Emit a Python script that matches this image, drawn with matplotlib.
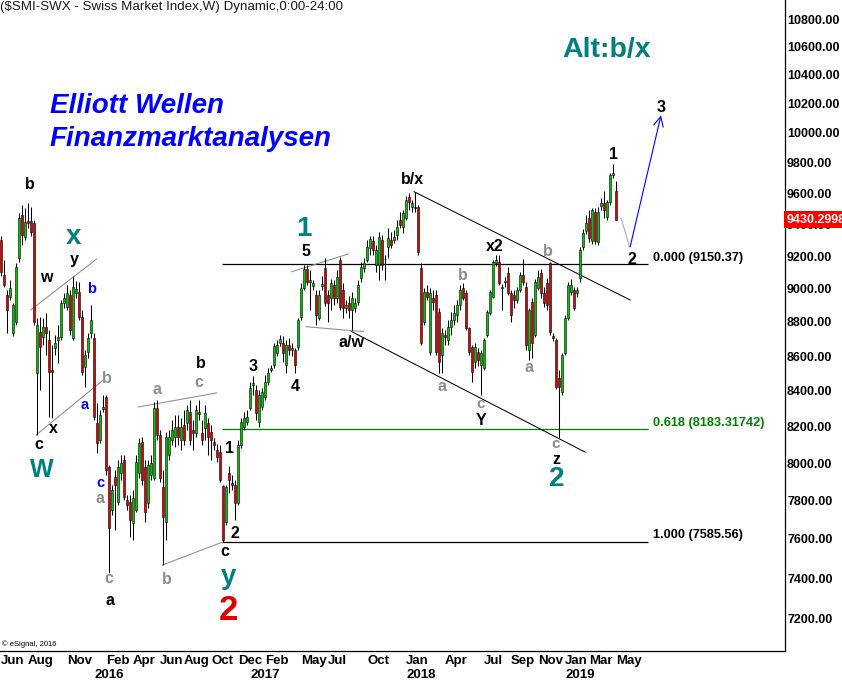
import matplotlib
matplotlib.use("Agg")
import matplotlib.pyplot as plt
import matplotlib.transforms as mtransforms
from matplotlib.ticker import NullLocator
import numpy as np
import pandas as pd


# weekly bars, first bar = week of 2015-06-01
START = "2015-06-01"

OPENS = [
    9302, 9084, 8962, 8950, 8735, 8800, 9190, 9460, 9320, 9422,
    9422, 9409, 8502, 8741, 8711, 8770, 8694, 8519, 8646, 8694,
    8711, 8914, 8890, 8962, 8705, 8974, 8980, 8830, 8536, 8623,
    8735, 8705, 8219, 8125, 8298, 8365, 7978, 7750, 7924, 7792,
    7946, 8016, 7802, 7792, 7681, 7750, 7946, 8114, 7978, 7786,
    7935, 7919, 8303, 8153, 7871, 7687, 8043, 8125, 8142, 8197,
    8125, 8208, 8219, 8281, 8180, 8164, 8281, 8164, 8191, 8219,
    8169, 8114, 8070, 8059, 7876, 7687, 7946, 7892, 7882, 7786,
    8098, 8197, 8225, 8303, 8433, 8405, 8225, 8309, 8365, 8450,
    8519, 8548, 8618, 8676, 8676, 8548, 8664, 8635, 8635, 8652,
    8830, 9005, 9121, 9041, 9017, 8962, 8824, 9017, 9127, 8962,
    8944, 9023, 8944, 9177, 8992, 8884, 8914, 8872, 8884, 8920,
    9066, 9127, 9177, 9251, 9295, 9146, 9146, 9302, 9183, 9258,
    9302, 9302, 9333, 9428, 9384, 9441, 9576, 9511, 9511, 9511,
    9127, 8800, 8980, 8623, 8944, 8962, 8860, 8606, 8723, 8694,
    8770, 8812, 8842, 8902, 9005, 8974, 8764, 8652, 8566, 8623,
    8548, 8531, 8723, 8854, 8950, 9159, 9165, 9005, 9041, 9096,
    8974, 8962, 8932, 8992, 9084, 9011, 8635, 8920, 8723, 9005,
    9096, 8974, 9035, 9159, 8717, 8694, 8473, 8393, 8618, 8824,
    8980, 8992, 8974, 9066, 9258, 9357, 9440, 9296, 9479, 9289,
    9518, 9537, 9447, 9543, 9719, 9615,
]
HIGHS = [
    9327, 9177, 8992, 9053, 8914, 9159, 9473, 9524, 9505, 9537,
    9511, 9428, 8824, 8830, 8824, 8854, 8753, 8664, 8723, 8782,
    8932, 8974, 9023, 8992, 9078, 9047, 9041, 8872, 8635, 8735,
    8902, 8735, 8331, 8292, 8376, 8376, 7989, 7882, 7962, 8016,
    8043, 8043, 7829, 7829, 7855, 8043, 8136, 8142, 8016, 8016,
    8043, 8337, 8348, 8180, 7962, 8169, 8180, 8236, 8264, 8264,
    8247, 8292, 8320, 8348, 8236, 8320, 8348, 8236, 8320, 8247,
    8208, 8136, 8103, 8098, 7882, 7882, 7984, 7935, 7908, 8125,
    8247, 8281, 8292, 8450, 8484, 8433, 8405, 8416, 8490, 8531,
    8548, 8676, 8694, 8723, 8717, 8694, 8705, 8676, 8646, 8824,
    9035, 9146, 9146, 9115, 9053, 8992, 8992, 9078, 9190, 8992,
    9060, 9053, 9115, 9196, 9035, 8932, 8956, 8980, 8944, 9053,
    9165, 9190, 9302, 9327, 9327, 9270, 9352, 9333, 9208, 9377,
    9352, 9365, 9428, 9479, 9492, 9582, 9602, 9556, 9608, 9524,
    9159, 9005, 9023, 9005, 8992, 8992, 8884, 8764, 8753, 8812,
    8860, 8902, 8932, 9023, 9035, 8992, 8770, 8664, 8676, 8646,
    8635, 8705, 8872, 8992, 9177, 9208, 9208, 9029, 9072, 9134,
    8992, 8992, 9011, 9102, 9183, 9041, 8884, 8944, 9060, 9115,
    9121, 9011, 9066, 9165, 8735, 8705, 8519, 8618, 8842, 9041,
    9060, 9011, 9011, 9258, 9371, 9460, 9492, 9505, 9505, 9511,
    9569, 9614, 9556, 9730, 9790, 9680,
]
LOWS = [
    9078, 9011, 8735, 8932, 8717, 8782, 9165, 9270, 9302, 9377,
    9327, 8782, 8153, 8405, 8664, 8606, 8253, 8247, 8606, 8560,
    8694, 8884, 8872, 8723, 8694, 8944, 8812, 8490, 8422, 8589,
    8705, 8236, 8054, 8109, 8281, 7935, 7426, 7723, 7645, 7776,
    7908, 7802, 7750, 7610, 7594, 7739, 7919, 7882, 7687, 7760,
    7908, 7908, 8125, 7898, 7467, 7594, 8016, 8098, 8087, 8098,
    8070, 8098, 8180, 8098, 8070, 8142, 8236, 8098, 8125, 8043,
    8016, 8070, 8005, 7898, 7585, 7671, 7839, 7855, 7697, 7776,
    8081, 8180, 8208, 8292, 8376, 8236, 8197, 8292, 8348, 8433,
    8508, 8531, 8600, 8658, 8566, 8502, 8606, 8600, 8502, 8635,
    8812, 8992, 9023, 8872, 8992, 8782, 8812, 8992, 8896, 8800,
    8872, 8902, 8914, 8872, 8824, 8854, 8824, 8753, 8860, 8902,
    9041, 9102, 9165, 9208, 9208, 9102, 9053, 9115, 9053, 9190,
    9251, 9283, 9302, 9377, 9346, 9428, 9492, 9479, 9479, 9208,
    8664, 8782, 8932, 8606, 8872, 8606, 8502, 8502, 8664, 8664,
    8723, 8782, 8800, 8872, 8932, 8753, 8606, 8450, 8531, 8540,
    8376, 8519, 8711, 8842, 8944, 9140, 9023, 8872, 9011, 8962,
    8800, 8884, 8914, 8980, 9023, 8635, 8577, 8589, 8711, 8992,
    8944, 8890, 8872, 8723, 8690, 8410, 8137, 8376, 8606, 8812,
    8962, 8872, 8950, 9041, 9239, 9340, 9290, 9277, 9277, 9270,
    9492, 9441, 9428, 9524, 9700, 9425,
]
CLOSES = [
    9102, 9023, 8872, 9005, 8902, 9134, 9441, 9333, 9415, 9409,
    9352, 8800, 8782, 8652, 8770, 8735, 8508, 8508, 8676, 8711,
    8914, 8944, 8974, 8753, 9011, 8998, 8830, 8508, 8606, 8705,
    8812, 8253, 8109, 8264, 8309, 7962, 7655, 7855, 7882, 7978,
    8000, 7818, 7776, 7697, 7813, 8005, 8109, 7908, 7739, 7989,
    8000, 8303, 8153, 7919, 7713, 8142, 8142, 8180, 8197, 8142,
    8197, 8125, 8292, 8125, 8164, 8292, 8270, 8125, 8275, 8142,
    8125, 8098, 8032, 7908, 7594, 7871, 7908, 7882, 7786, 8098,
    8225, 8247, 8253, 8416, 8444, 8275, 8376, 8393, 8450, 8502,
    8531, 8658, 8664, 8700, 8618, 8664, 8635, 8646, 8548, 8812,
    9005, 9121, 9041, 9053, 9035, 8842, 8962, 9029, 8914, 8914,
    9035, 8944, 9072, 8890, 8884, 8902, 8872, 8944, 8914, 9023,
    9134, 9159, 9258, 9308, 9239, 9239, 9321, 9146, 9180, 9314,
    9270, 9321, 9384, 9396, 9473, 9556, 9543, 9537, 9505, 9227,
    8676, 8980, 8950, 8974, 8920, 8623, 8566, 8735, 8711, 8770,
    8812, 8854, 8902, 8992, 8944, 8764, 8623, 8508, 8652, 8577,
    8618, 8694, 8860, 8980, 9165, 9177, 9035, 9011, 9047, 8974,
    8842, 8932, 8992, 9084, 9041, 8664, 8872, 8676, 9041, 9072,
    8974, 8914, 8902, 8741, 8705, 8422, 8422, 8606, 8824, 9023,
    9023, 8884, 8992, 9239, 9346, 9409, 9315, 9492, 9296, 9480,
    9537, 9492, 9543, 9719, 9732, 9430,
]
LAST_PRICE = 9430.2998

FIB_RATIOS = [0.000, 0.618, 1.000]
FIB_LEVELS = [9150.37, 8183.31742, 7585.56]

PRICE_TICKS = list(range(7200, 10801, 200))
MONTH_LABELS = [
    (2015, 6), (2015, 8), (2015, 11), (2016, 2), (2016, 4), (2016, 6),
    (2016, 8), (2016, 10), (2016, 12), (2017, 2), (2017, 5), (2017, 7),
    (2017, 10), (2018, 1), (2018, 4), (2018, 7), (2018, 9), (2018, 11),
    (2019, 1), (2019, 3), (2019, 5),
]
YEAR_LABELS = [2016, 2017, 2018, 2019]

COLORS = {
    "up": "#00c800",
    "down": "#e00000",
    "ink": "#000000",
    "grey": "#8c8c8c",
    "teal": "#008080",
    "blue": "#0000ff",
    "fib_green": "#008000",
}

# wave counts: (text, bar index, price level, colour, size)
WAVE_LABELS = [
    ("b", 9.7, 9654, "ink", 11.5), ("w", 15.2, 9066, "ink", 11.5),
    ("y", 24.3, 9177, "ink", 11.5), ("x", 24.3, 9321, "teal", 20),
    ("b", 30.2, 8998, "blue", 10.5), ("b", 35.2, 8473, "grey", 11.5),
    ("a", 28.0, 8320, "blue", 10.5), ("x", 17.3, 8191, "ink", 11.5),
    ("c", 12.7, 8098, "ink", 11.5), ("W", 13.7, 7962, "teal", 18),
    ("c", 33.0, 7892, "blue", 10.5), ("a", 33.0, 7808, "grey", 11.5),
    ("c", 36.0, 7401, "grey", 11.5), ("a", 36.3, 7291, "ink", 11.5),
    ("a", 52.0, 8410, "grey", 11.5), ("c", 66.0, 8450, "grey", 11.5),
    ("b", 66.6, 8554, "ink", 11.5), ("b", 55.3, 7392, "grey", 11.5),
    ("c", 74.5, 7533, "ink", 11.5), ("y", 76.0, 7406, "teal", 20),
    ("2", 75.7, 7243, "down", 25), ("1", 76.0, 8081, "ink", 11.5),
    ("2", 78.0, 7630, "ink", 11.5), ("3", 84.0, 8542, "ink", 11.5),
    ("4", 98.2, 8422, "ink", 11.5), ("5", 101.8, 9227, "ink", 11.5),
    ("1", 101.0, 9371, "teal", 20), ("a/w", 116.9, 8676, "ink", 11.5),
    ("b/x", 137.3, 9687, "ink", 11.5), ("a", 146.9, 8422, "grey", 11.5),
    ("b", 154.0, 9078, "grey", 11.5), ("x2", 164.7, 9258, "ink", 11.5),
    ("c", 160.0, 8325, "grey", 11), ("Y", 160.0, 8232, "ink", 11.5),
    ("a", 176.0, 8531, "grey", 11.5), ("b", 182.3, 9227, "grey", 11.5),
    ("c", 185.0, 8104, "grey", 11), ("z", 185.2, 8017, "ink", 11.5),
    ("2", 185.3, 7912, "teal", 20), ("1", 204.0, 9852, "ink", 11.5),
    ("2", 210.2, 9177, "ink", 11.5), ("3", 220.0, 10170, "ink", 11.5),
]

# channel / wedge lines: ((i0, p0), (i1, p1), colour)
TREND_LINES = [
    ((9.9, 8872), (31.9, 9183), "grey"),
    ((11.7, 8153), (34.1, 8462), "grey"),
    ((45.8, 8309), (71.9, 8388), "grey"),
    ((53.8, 7467), (74.1, 7585), "grey"),
    ((96.9, 9104), (115.8, 9214), "grey"),
    ((101.7, 8772), (120.8, 8743), "grey"),
    ((137.7, 9610), (209.7, 8932), "ink"),
    ((116.9, 8743), (194.7, 8059), "ink"),
]


def draw_candles(ax, x):
    o = np.array(OPENS, float)
    h = np.array(HIGHS, float)
    l = np.array(LOWS, float)
    c = np.array(CLOSES, float)
    ax.vlines(x, l, h, color="black", linewidth=0.75, zorder=2)
    lo = np.minimum(o, c)
    hi = np.maximum(o, c)
    fill = np.where(c >= o, COLORS["up"], COLORS["down"])
    ax.bar(x, hi - lo, bottom=lo, width=0.85, color=fill,
           edgecolor="black", linewidth=0.4, zorder=3)


def main():
    plt.rcParams["font.family"] = ["Liberation Sans", "DejaVu Sans"]

    dates = pd.date_range(START, periods=len(CLOSES), freq="W-MON")
    x = np.arange(len(dates))

    fig = plt.figure(figsize=(8.42, 6.83), dpi=100)
    ax = fig.add_axes([0, 32 / 683, 785 / 842, 651 / 683])
    fig.patch.set_facecolor("white")

    ax.set_yscale("log")
    ax.set_ylim(7045.4, 10939.6)
    ax.set_xlim(-1 / 3, 784 / 3)

    draw_candles(ax, x)

    # fibonacci retracement levels, drawn from wave-2 low
    fib_start = float(np.argmin(LOWS[60:90]) + 60) - 0.3
    fib_end = 215.7
    for ratio, level in zip(FIB_RATIOS, FIB_LEVELS):
        col = COLORS["fib_green"] if ratio == 0.618 else "black"
        ax.hlines(level, fib_start, fib_end, color=col, linewidth=0.9, zorder=1)
        ax.text(fib_end + 1.7, level * 1.0002, f"{ratio:.3f} ({level})",
                fontsize=9.2, fontweight="bold", color=col,
                ha="left", va="bottom")

    for (i0, p0), (i1, p1), col in TREND_LINES:
        ax.plot([i0, i1], [p0, p1], color=COLORS[col], linewidth=0.75, zorder=1)

    # projected path 2 -> 3
    ax.plot([206.7, 209.5], [9441, 9258], color="#b4b4b4", linewidth=0.9, zorder=1)
    ax.annotate("", xy=(220.0, 10119), xytext=(209.7, 9258),
                arrowprops=dict(arrowstyle="->,head_length=0.7,head_width=0.35",
                                color=COLORS["blue"], linewidth=0.8,
                                shrinkA=0, shrinkB=0))

    for text, i, p, col, size in WAVE_LABELS:
        ax.text(i, p, text, fontsize=size, fontweight="bold",
                color=COLORS[col], ha="center", va="center", zorder=5)

    # axes frame
    for side in ("top", "left"):
        ax.spines[side].set_visible(False)
    for side in ("right", "bottom"):
        ax.spines[side].set_color("black")
        ax.spines[side].set_linewidth(0.9)

    ax.yaxis.tick_right()
    ax.set_yticks(PRICE_TICKS, labels=[f"{v:.2f}" for v in PRICE_TICKS],
                  fontsize=9, fontweight="bold")
    ax.yaxis.set_minor_locator(NullLocator())
    ax.tick_params(axis="y", length=0, pad=1.5)
    ax.set_xticks([])

    trans = mtransforms.blended_transform_factory(ax.transData, ax.transAxes)
    for yr, mo in MONTH_LABELS:
        idx = int(np.argmax((dates.year == yr) & (dates.month == mo)))
        ax.text(idx, -0.0155, dates[idx].strftime("%b"), transform=trans,
                fontsize=9.5, fontweight="bold", ha="left", va="center",
                clip_on=False)
    for yr in YEAR_LABELS:
        idx = int(np.argmax((dates.year == yr) & (dates.month == 1)))
        ax.text(idx, -0.037, str(yr), transform=trans,
                fontsize=9.5, fontweight="bold", ha="left", va="center",
                clip_on=False)

    ytrans = mtransforms.blended_transform_factory(ax.transAxes, ax.transData)
    ax.text(1.002, LAST_PRICE, f"{LAST_PRICE:.4f}", transform=ytrans,
            fontsize=9, fontweight="bold", color="white", ha="left", va="center",
            clip_on=False, zorder=6,
            bbox=dict(boxstyle="square,pad=0.2", facecolor="#ff0000",
                      edgecolor="none"))

    fig.text(0.0, 1 - 7 / 683, "($SMI-SWX - Swiss Market Index,W) Dynamic,0:00-24:00",
             fontsize=9.6, color="#1a1a1a", ha="left", va="center")
    fig.text(50 / 842, 1 - 106 / 683, "Elliott Wellen", fontsize=20,
             fontweight="bold", fontstyle="italic", color=COLORS["blue"],
             ha="left", va="center")
    fig.text(50 / 842, 1 - 139 / 683, "Finanzmarktanalysen", fontsize=20,
             fontweight="bold", fontstyle="italic", color=COLORS["blue"],
             ha="left", va="center")
    fig.text(607 / 842, 1 - 50 / 683, "Alt:b/x", fontsize=20.5,
             fontweight="bold", color=COLORS["teal"], ha="center", va="center")
    fig.text(2 / 842, 1 - 644 / 683, "\u00a9 eSignal, 2016", fontsize=5.5,
             color="black", ha="left", va="center")

    fig.savefig("out.png", dpi=100)
    plt.close(fig)


if __name__ == "__main__":
    main()
